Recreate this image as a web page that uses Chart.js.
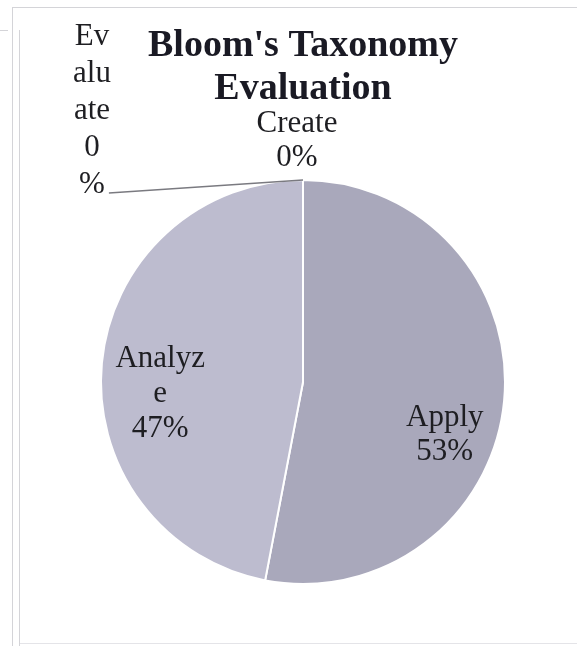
<!DOCTYPE html>
<html>
<head>
<meta charset="utf-8">
<title>Bloom's Taxonomy Evaluation</title>
<script src="https://cdn.jsdelivr.net/npm/chart.js@4.4.1/dist/chart.umd.min.js"></script>
<style>
  html, body { margin: 0; padding: 0; background: #fff; }
  #wrap { position: relative; width: 577px; height: 646px; overflow: hidden; }
  #bloomChart { position: absolute; left: 0; top: 0; }
  .rule { position: absolute; background: #d4d4d8; }
</style>
</head>
<body>
<div id="wrap">
  <div class="rule" style="left:12px; top:7px; width:565px; height:1px;"></div>
  <div class="rule" style="left:0; top:30px; width:8px; height:1px;"></div>
  <div class="rule" style="left:12px; top:7px; width:1px; height:639px;"></div>
  <div class="rule" style="left:19px; top:30px; width:1px; height:616px;"></div>
  <div class="rule" style="left:20px; top:643px; width:557px; height:1px; background:#e4e4e8;"></div>
  <canvas id="bloomChart" width="577" height="646"></canvas>
</div>
<script>
const levels = ["Apply", "Analyze", "Evaluate", "Create"];
const shares = [53, 47, 0, 0];
const sliceColors = ["#a9a8bb", "#bdbccf", "#c9c9d8", "#9d9db2"];

// where each label goes, relative to its slice
const labelPlace = [
  { inside: true, r: 0.7, dx: 1, dy: 40, maxWidth: 200, lineH: 34 },
  { inside: true, r: 0.7, dx: -2, dy: 25, maxWidth: 95, lineH: 35 },
  { inside: false, dx: -211, dy: -69, maxWidth: 40, lineH: 37, leader: true },
  { inside: false, dx: -6, dy: -39, maxWidth: 200, lineH: 34 }
];

function wrapText(ctx, text, maxWidth) {
  const lines = [];
  let cur = "";
  for (const ch of text) {
    if (cur && ctx.measureText(cur + ch).width > maxWidth) {
      lines.push(cur);
      cur = ch;
    } else {
      cur += ch;
    }
  }
  if (cur) lines.push(cur);
  return lines;
}

const sliceLabels = {
  id: "sliceLabels",
  afterDatasetsDraw(chart) {
    const ctx = chart.ctx;
    const meta = chart.getDatasetMeta(0);
    const total = shares.reduce((a, b) => a + b, 0);
    ctx.save();
    ctx.font = "31px 'Liberation Serif', 'Times New Roman', serif";
    ctx.fillStyle = "#1e1e22";
    ctx.textAlign = "center";
    ctx.textBaseline = "middle";
    meta.data.forEach((arc, i) => {
      const p = arc.getProps(["x", "y", "startAngle", "endAngle", "outerRadius"], true);
      const place = labelPlace[i];
      const lineH = place.lineH;
      const pct = Math.round(shares[i] / total * 100) + "%";
      const lines = wrapText(ctx, levels[i], place.maxWidth).concat(wrapText(ctx, pct, place.maxWidth));
      let ax, ay;
      if (place.inside) {
        const mid = (p.startAngle + p.endAngle) / 2;
        ax = p.x + Math.cos(mid) * p.outerRadius * place.r;
        ay = p.y + Math.sin(mid) * p.outerRadius * place.r;
      } else {
        ax = p.x + Math.cos(p.startAngle) * p.outerRadius;
        ay = p.y + Math.sin(p.startAngle) * p.outerRadius;
      }
      const cx = ax + place.dx;
      const cy = ay + place.dy;
      const top = cy - (lines.length - 1) * lineH / 2;
      lines.forEach((t, k) => ctx.fillText(t, cx, top + k * lineH));
      if (place.leader) {
        const last = lines[lines.length - 1];
        const sx = cx + ctx.measureText(last).width / 2 + 4;
        const sy = top + (lines.length - 1) * lineH + 8;
        ctx.strokeStyle = "#7a7a80";
        ctx.lineWidth = 1.5;
        ctx.beginPath();
        ctx.moveTo(sx, sy);
        ctx.lineTo(ax, ay);
        ctx.stroke();
      }
    });
    ctx.restore();
  }
};

const ctx = document.getElementById("bloomChart").getContext("2d");

new Chart(ctx, {
  type: "pie",
  data: {
    labels: levels,
    datasets: [{
      data: shares,
      backgroundColor: sliceColors,
      borderColor: "#ffffff",
      borderWidth: 2
    }]
  },
  options: {
    responsive: false,
    animation: false,
    layout: { padding: { left: 100, right: 71, top: 25, bottom: 61 } },
    plugins: {
      legend: { display: false },
      tooltip: { enabled: false },
      title: {
        display: true,
        text: ["Bloom's Taxonomy", "Evaluation"],
        color: "#1a1a24",
        font: { family: "'Liberation Serif', 'Times New Roman', serif", size: 38, weight: "bold", lineHeight: 1.13 },
        padding: { top: 0, bottom: 68 }
      }
    }
  },
  plugins: [sliceLabels]
});
</script>
</body>
</html>
